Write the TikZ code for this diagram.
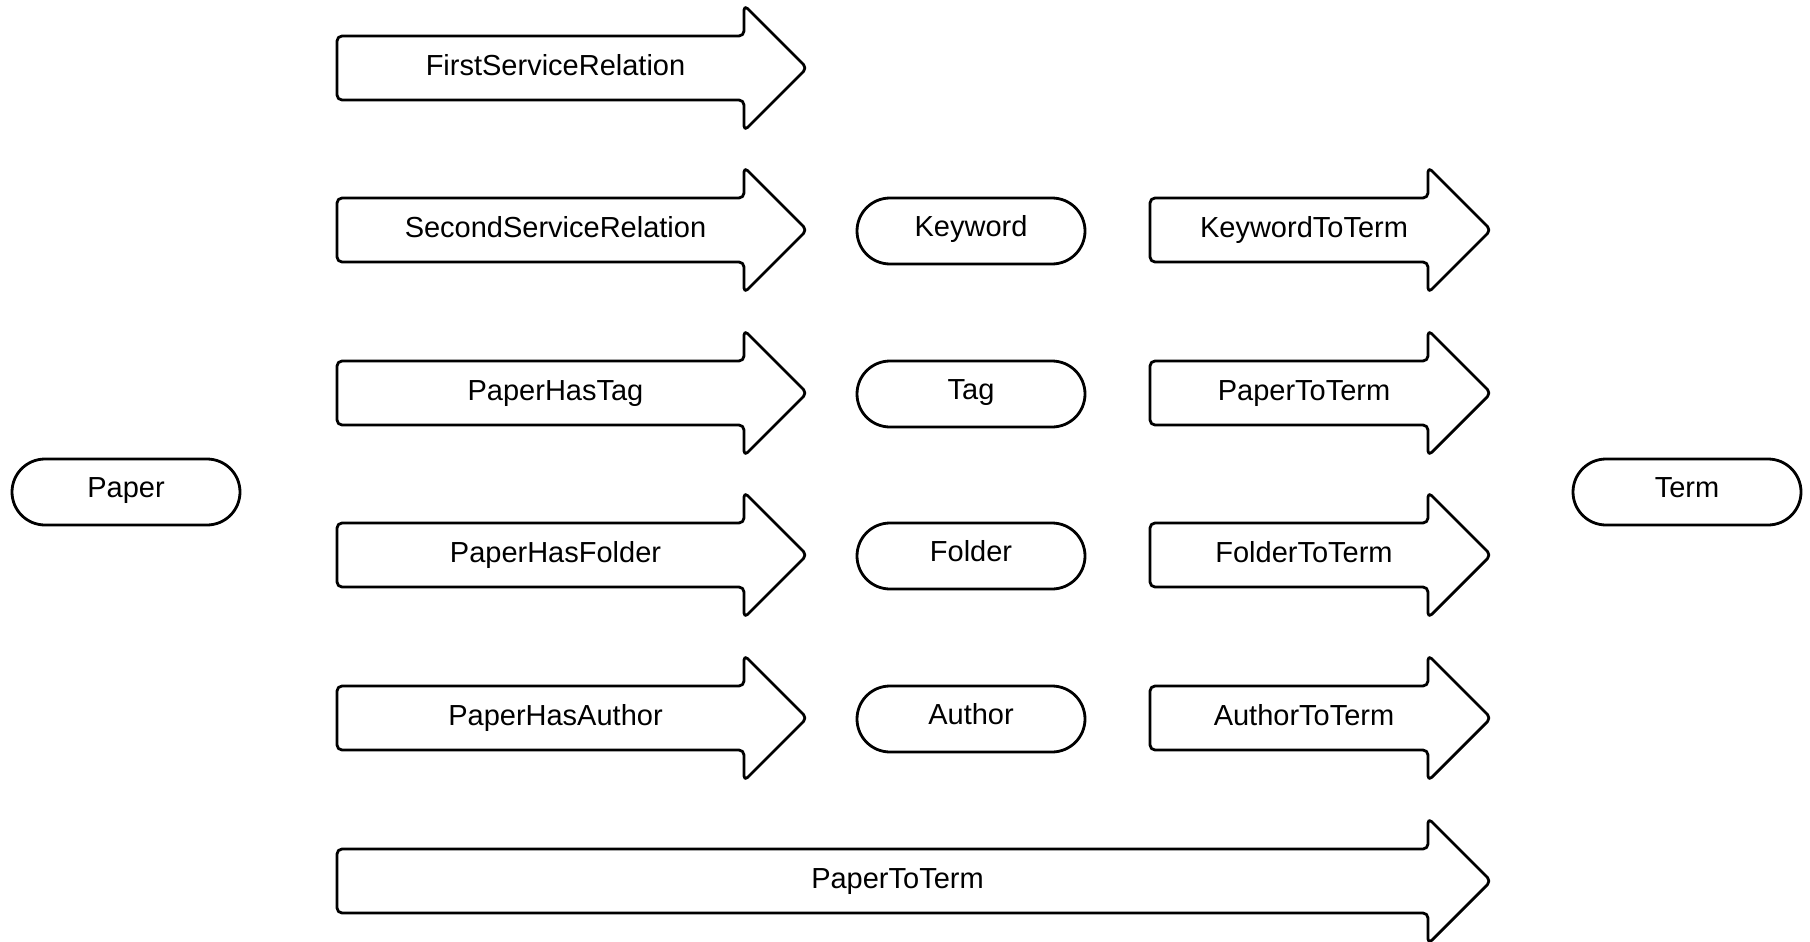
\documentclass[tikz,border=0pt]{standalone}
\usepackage{fontspec}
\setmainfont{Liberation Sans}
\usetikzlibrary{shapes.misc}

% arrow with text: name, left x, head x, row y, text
\newcommand{\relarrow}[5]{%
\draw [relshape] (#2,-#4+32) -- (#3,-#4+32) -- (#3,-#4+63) -- (#3+63,-#4)
  -- (#3,-#4-63) -- (#3,-#4-32) -- (#2,-#4-32) -- cycle;
\node [reltext] (#1) at ({(#2+#3)/2+15},-#4) {#5};}

\begin{document}
\begin{tikzpicture}[x=1pt,y=1pt]
\tikzstyle{relshape}=[draw=black, line width=2.8pt, rounded corners=5pt, line join=round]
\tikzstyle{reltext}=[inner sep=0pt, text height=21pt, text depth=7pt, font=\fontsize{29}{35}\selectfont]
\tikzstyle{entity}=[draw=black, line width=2.8pt, rounded rectangle, minimum width=228pt, minimum height=66pt, inner sep=0pt, text height=20pt, text depth=9pt, font=\fontsize{29}{35}\selectfont]
\useasboundingbox (0,0) rectangle (1810,-942);
\node [entity] (paper) at (126,-492) {Paper};
\node [entity] (term) at (1687,-492) {Term};
\relarrow{firstservice}{337}{744}{68}{FirstServiceRelation}
\relarrow{secondservice}{337}{744}{230}{SecondServiceRelation}
\relarrow{hastag}{337}{744}{393}{PaperHasTag}
\relarrow{hasfolder}{337}{744}{555}{PaperHasFolder}
\relarrow{hasauthor}{337}{744}{718}{PaperHasAuthor}
\node [entity] (keyword) at (971,-231) {Keyword};
\node [entity] (tag) at (971,-394) {Tag};
\node [entity] (folder) at (971,-556) {Folder};
\node [entity] (author) at (971,-719) {Author};
\relarrow{keywordterm}{1150}{1428}{230}{KeywordToTerm}
\relarrow{tagterm}{1150}{1428}{393}{PaperToTerm}
\relarrow{folderterm}{1150}{1428}{555}{FolderToTerm}
\relarrow{authorterm}{1150}{1428}{718}{AuthorToTerm}
\relarrow{paperterm}{337}{1428}{881}{PaperToTerm}
\end{tikzpicture}
\end{document}
